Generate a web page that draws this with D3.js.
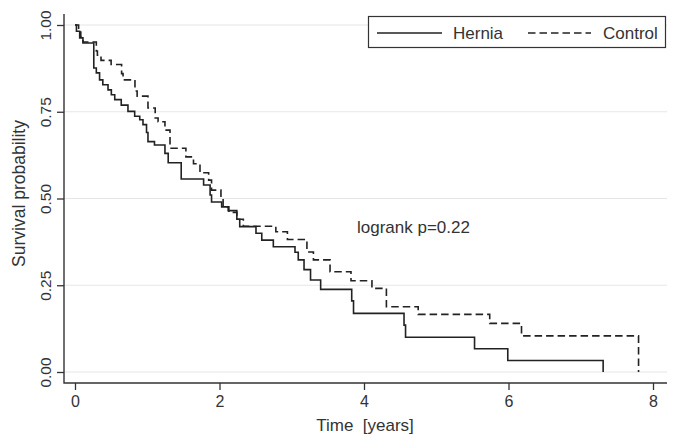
<!DOCTYPE html>
<html><head><meta charset="utf-8">
<script src="https://cdn.jsdelivr.net/npm/d3@7"></script>
<style>
html,body{margin:0;padding:0;background:#fff;}
svg text{font-family:"Liberation Sans",Arial,Helvetica,sans-serif;fill:#333;white-space:pre;}
</style></head>
<body>
<svg id="chart" width="682" height="446"></svg>
<script>
// ---- data ----
const seriesNames = ["Hernia", "Control"];
const herniaTime = [0, 0.02, 0.065, 0.11, 0.26, 0.295, 0.34, 0.385, 0.457, 0.503, 0.55, 0.64, 0.733, 0.826, 0.896, 0.941, 0.99, 1.01, 1.1, 1.245, 1.29, 1.47, 1.78, 1.87, 1.89, 2.03, 2.12, 2.24, 2.28, 2.505, 2.585, 2.745, 3.045, 3.09, 3.17, 3.26, 3.40, 3.83, 3.855, 4.554, 4.575, 5.53, 5.99, 7.31];
const herniaSurv = [1, 0.982, 0.963, 0.948, 0.876, 0.862, 0.842, 0.828, 0.813, 0.799, 0.785, 0.769, 0.751, 0.737, 0.727, 0.713, 0.69, 0.664, 0.654, 0.63, 0.603, 0.556, 0.539, 0.51, 0.49, 0.476, 0.465, 0.44, 0.419, 0.40, 0.38, 0.361, 0.345, 0.323, 0.295, 0.265, 0.238, 0.205, 0.169, 0.135, 0.10, 0.067, 0.033, 0];
const controlTime = [0, 0.05, 0.08, 0.11, 0.295, 0.31, 0.36, 0.50, 0.645, 0.665, 0.83, 0.86, 1.01, 1.11, 1.15, 1.245, 1.315, 1.535, 1.64, 1.73, 1.85, 1.89, 2.02, 2.05, 2.13, 2.24, 2.33, 2.78, 2.94, 3.21, 3.30, 3.53, 3.82, 4.11, 4.31, 4.75, 5.74, 6.18, 7.80];
const controlSurv = [1, 0.98, 0.965, 0.951, 0.925, 0.913, 0.898, 0.886, 0.86, 0.842, 0.81, 0.795, 0.761, 0.732, 0.721, 0.697, 0.645, 0.62, 0.60, 0.574, 0.553, 0.524, 0.50, 0.476, 0.46, 0.44, 0.42, 0.404, 0.382, 0.346, 0.323, 0.289, 0.263, 0.241, 0.188, 0.166, 0.140, 0.104, 0];
const xTicks = [0, 2, 4, 6, 8];
const yTicks = [0, 0.25, 0.5, 0.75, 1];
const xTitle = "Time  [years]";
const yTitle = "Survival probability";
const annotation = "logrank p=0.22";

// ---- layout ----
const svg = d3.select("#chart");
const plot = {left: 64, right: 667, top: 14, bottom: 383};
const x = d3.scaleLinear().domain([0, 8]).range([75, 653]);
const y = d3.scaleLinear().domain([0, 1]).range([372, 25]);
const ink = "#333";

// gridlines
svg.append("g").selectAll("line").data(yTicks).join("line")
  .attr("x1", plot.left).attr("x2", plot.right)
  .attr("y1", d => y(d)).attr("y2", d => y(d))
  .attr("stroke", "#e6e6e6").attr("stroke-width", 1.2);

// x axis
const xAxis = svg.append("g").attr("transform", `translate(0,${plot.bottom})`)
  .call(d3.axisBottom(x).tickValues(xTicks).tickFormat(d3.format("d")).tickSize(7).tickPadding(6).tickSizeOuter(0));
xAxis.select(".domain").remove();
xAxis.selectAll(".tick line").attr("stroke", ink).attr("stroke-width", 1.3);
xAxis.selectAll(".tick text").attr("font-size", 16).attr("fill", ink).attr("font-family", null);

// y axis
const yAxis = svg.append("g").attr("transform", `translate(${plot.left},0)`)
  .call(d3.axisLeft(y).tickValues(yTicks).tickFormat(d3.format(".2f")).tickSize(7).tickSizeOuter(0));
yAxis.select(".domain").remove();
yAxis.selectAll(".tick line").attr("stroke", ink).attr("stroke-width", 1.3);
yAxis.selectAll(".tick text")
  .attr("font-size", 15.5).attr("fill", ink).attr("font-family", null)
  .attr("x", null).attr("dy", null)
  .attr("text-anchor", "middle")
  .attr("transform", "translate(-13,0) rotate(-90)");

// axis lines (L shape)
svg.append("path")
  .attr("d", `M${plot.left},${plot.top}V${plot.bottom}H${plot.right}`)
  .attr("fill", "none").attr("stroke", ink).attr("stroke-width", 1.4);

// titles
svg.append("text").attr("x", 365).attr("y", 431).attr("text-anchor", "middle")
  .attr("font-size", 17).text(xTitle);
svg.append("text").attr("transform", `translate(25,${y(0.5) - 5}) rotate(-90)`)
  .attr("text-anchor", "middle").attr("font-size", 17.5).text(yTitle);

// curves
const line = d3.line().x(d => x(d[0])).y(d => y(d[1])).curve(d3.curveStepAfter);
const hernia = herniaTime.map((t, i) => [t, herniaSurv[i]]);
const control = controlTime.map((t, i) => [t, controlSurv[i]]);
svg.append("path").datum(control).attr("d", line)
  .attr("fill", "none").attr("stroke", "#222").attr("stroke-width", 1.6)
  .attr("stroke-dasharray", "7.5,4");
svg.append("path").datum(hernia).attr("d", line)
  .attr("fill", "none").attr("stroke", "#222").attr("stroke-width", 1.6);

// annotation
svg.append("text").attr("x", 357).attr("y", 233).attr("font-size", 17).text(annotation);

// legend
const lg = svg.append("g");
lg.append("rect").attr("x", 368.5).attr("y", 16.5).attr("width", 297).attr("height", 31)
  .attr("fill", "#fff").attr("stroke", ink).attr("stroke-width", 1.2);
lg.append("line").attr("x1", 377).attr("x2", 442).attr("y1", 33).attr("y2", 33)
  .attr("stroke", "#222").attr("stroke-width", 1.5);
lg.append("text").attr("x", 453).attr("y", 39).attr("font-size", 17).text(seriesNames[0]);
lg.append("line").attr("x1", 528).attr("x2", 591).attr("y1", 33).attr("y2", 33)
  .attr("stroke", "#222").attr("stroke-width", 1.5).attr("stroke-dasharray", "7.5,4");
lg.append("text").attr("x", 603).attr("y", 39).attr("font-size", 17).text(seriesNames[1]);
</script>
</body></html>
